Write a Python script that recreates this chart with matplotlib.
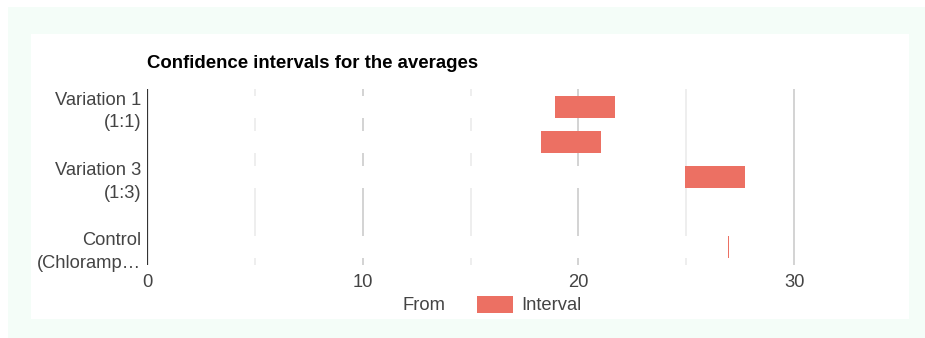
import matplotlib
matplotlib.use("Agg")
import matplotlib.pyplot as plt
from matplotlib.patches import Rectangle

plt.rcParams['font.family'] = ['Liberation Sans', 'DejaVu Sans']

# rows top to bottom; only every other label is shown, like the original
categories = ['Variation 1\n(1:1)', 'Variation 2\n(1:2)', 'Variation 3\n(1:3)',
              'Variation 4\n(1:4)', 'Control\n(Chloramp…']
shown = [True, False, True, False, True]
starts = [18.92, 18.27, 24.94, None, 26.95]     # "From" series
widths = [2.78, 2.78, 2.78, None, 0.03]         # "Interval" series
xticks = [0, 10, 20, 30]
minor_ticks = [5, 15, 25]

red = '#ec7063'
txt = '#444444'
fs = 13.2

fig = plt.figure(figsize=(9.25, 3.38), dpi=100)
fig.patch.set_facecolor('white')
fig.patches.append(Rectangle((8 / 925, 0), 1, 1 - 7 / 338, transform=fig.transFigure,
                             facecolor='#f4fdf8', edgecolor='none', zorder=-2))
fig.patches.append(Rectangle((31 / 925, 1 - 319 / 338), (909 - 31) / 925, (319 - 34) / 338,
                             transform=fig.transFigure, facecolor='white', edgecolor='none', zorder=-1))

ax = fig.add_axes([147 / 925, 1 - 265 / 338, (902 - 147) / 925, 176 / 338])
ax.set_zorder(2)
ax.set_facecolor('none')
ax.set_xlim(0, 35)
ax.set_ylim(len(categories) - 0.5, -0.5)

# grid lines (behind the white "From" bars)
for v in minor_ticks:
    ax.axvline(v, color='#ebebeb', lw=1.2, zorder=1)
for v in xticks[1:]:
    ax.axvline(v, color='#cccccc', lw=1.2, zorder=1)

ys = list(range(len(categories)))
for y, s, w in zip(ys, starts, widths):
    if s is None:
        continue
    ax.barh(y, s, height=0.63, left=0, color='white', zorder=2)
    ax.barh(y, w, height=0.63, left=s, color=red, zorder=3)

ax.axvline(0, color='#333333', lw=1.6, zorder=4)

for sp in ax.spines.values():
    sp.set_visible(False)
ax.set_yticks(ys)
ax.set_yticklabels([c if s else '' for c, s in zip(categories, shown)],
                   fontsize=fs, color=txt, linespacing=1.45)
ax.set_xticks(xticks)
ax.set_xticklabels([str(t) for t in xticks], fontsize=fs, color=txt)
ax.tick_params(length=0, axis='both')
ax.tick_params(axis='y', pad=4)
ax.tick_params(axis='x', pad=6.5)

fig.text(147 / 925, 1 - 63 / 338, 'Confidence intervals for the averages',
         fontsize=13.4, fontweight='bold', color='black', va='center', ha='left')

# legend
fig.text(403 / 925, 1 - 306 / 338, 'From', fontsize=fs, color=txt, va='center', ha='left')
fig.patches.append(Rectangle((477 / 925, 1 - 313 / 338), 36 / 925, 17 / 338,
                             transform=fig.transFigure, facecolor=red, edgecolor='none'))
fig.text(521 / 925, 1 - 306 / 338, 'Interval', fontsize=fs, color=txt, va='center', ha='left')

fig.savefig('out.png', dpi=100)
